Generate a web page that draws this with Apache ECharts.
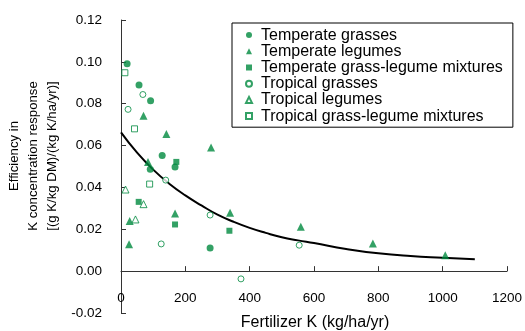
<!DOCTYPE html>
<html>
<head>
<meta charset="utf-8">
<script src="https://cdn.jsdelivr.net/npm/echarts@6/dist/echarts.min.js"></script>
<style>
  html, body { margin: 0; padding: 0; background: #fff; }
  #chart { width: 525px; height: 331px; }
</style>
</head>
<body>
<div id="chart"></div>
<script>
// Observations: [fertilizer K (kg/ha/yr), efficiency]
const temperateGrasses = [[19, 0.0991], [56, 0.0889], [92, 0.0814], [128, 0.0553], [91, 0.0487], [168, 0.0498], [277, 0.0110]];
const temperateLegumes = [[70, 0.0742], [141, 0.0655], [280, 0.0591], [84, 0.0522], [168, 0.0276], [339, 0.0279], [27, 0.0240], [559, 0.0212], [25, 0.0128], [783, 0.0132], [1008, 0.0076]];
const temperateMixtures = [[172, 0.0522], [55, 0.0331], [168, 0.0223], [337, 0.0193]];
const tropicalGrasses = [[68, 0.0844], [22, 0.0773], [139, 0.0435], [277, 0.0268], [125, 0.0130], [554, 0.0124], [373, -0.0037]];
const tropicalLegumes = [[14, 0.0390], [70, 0.0320], [45, 0.0247]];
const tropicalMixtures = [[12, 0.0948], [42, 0.0680], [89, 0.0416]];

// Fitted response curve
const curveX = [0, 50, 100, 150, 200, 250, 300, 350, 400, 450, 500, 550, 600, 700, 800, 900, 1000, 1100];
const curveY = [0.0663, 0.0566, 0.0485, 0.0418, 0.0362, 0.0314, 0.0270, 0.0236, 0.0207, 0.0183, 0.0162, 0.0147, 0.0134, 0.0106, 0.0085, 0.0072, 0.0064, 0.0057];

const seriesNames = [
  'Temperate grasses',
  'Temperate legumes',
  'Temperate grass-legume mixtures',
  'Tropical grasses',
  'Tropical legumes',
  'Tropical grass-legume mixtures'
];

const GREEN = '#00893f';
const AXIS = '#333';
const FONT = 'Arial, "Liberation Sans", sans-serif';

function filled(name, data, symbol, size) {
  return {
    type: 'scatter', name: name, data: data, symbol: symbol, symbolSize: size, z: 3,
    itemStyle: { color: GREEN, borderWidth: 0 }
  };
}
function hollow(name, data, symbol, size) {
  return {
    type: 'scatter', name: name, data: data, symbol: symbol, symbolSize: size, z: 3,
    itemStyle: { color: '#fff', borderColor: GREEN, borderWidth: 1 }
  };
}

const chart = echarts.init(document.getElementById('chart'), null, { renderer: 'canvas' });
chart.setOption({
  animation: false,
  backgroundColor: '#fff',
  textStyle: { fontFamily: FONT },
  grid: { left: 121, right: 16, top: 20, bottom: 18, containLabel: false },
  xAxis: [
    {
      // tick labels, sitting low inside the plot area
      type: 'value', min: 0, max: 1200, interval: 200, position: 'bottom',
      axisLine: { show: false, onZero: false },
      axisTick: { show: false },
      axisLabel: { margin: -22, fontSize: 13.5, color: '#000', fontFamily: FONT,
        formatter: function (v) { return String(v); } },
      splitLine: { show: false }
    },
    {
      // axis line with upward ticks along y = 0
      type: 'value', min: 0, max: 1200, interval: 200, position: 'top',
      axisLine: { show: true, onZero: true, lineStyle: { color: AXIS, width: 1 } },
      axisTick: { show: true, inside: false, length: 5, lineStyle: { color: AXIS } },
      axisLabel: { show: false },
      splitLine: { show: false }
    }
  ],
  yAxis: {
    type: 'value', min: -0.02, max: 0.12, interval: 0.02,
    axisLine: { show: true, onZero: false, lineStyle: { color: AXIS, width: 1 } },
    axisTick: { show: true, inside: true, length: 5, lineStyle: { color: AXIS } },
    axisLabel: { margin: 19, fontSize: 13.5, color: '#000', fontFamily: FONT,
      formatter: function (v) { return (Math.abs(v) < 1e-9 ? 0 : v).toFixed(2); } },
    splitLine: { show: false }
  },
  legend: {
    data: seriesNames,
    orient: 'vertical',
    left: 232, top: 23,
    padding: [4, 10, 3, 13],
    backgroundColor: '#fff',
    borderColor: '#000', borderWidth: 1, borderRadius: 0,
    itemWidth: 6, itemHeight: 6, itemGap: 0,
    selectedMode: false,
    textStyle: { fontSize: 16, lineHeight: 16.2, color: '#000', fontFamily: FONT, padding: [0, 0, 0, 4] }
  },
  graphic: [
    {
      type: 'text', x: 33, y: 156, rotation: Math.PI / 2,
      style: {
        text: 'Efficiency in\nK concentration response\n[(g K/kg DM)/(kg K/ha/yr)]',
        align: 'center', verticalAlign: 'middle', lineHeight: 19,
        fontSize: 13.2, fontFamily: FONT, fill: '#000'
      }
    },
    {
      type: 'text', x: 315, y: 323,
      style: {
        text: 'Fertilizer K (kg/ha/yr)',
        align: 'center', verticalAlign: 'middle',
        fontSize: 16, fontFamily: FONT, fill: '#000'
      }
    }
  ],
  series: [
    {
      type: 'line', name: 'fit', data: curveX.map(function (x, i) { return [x, curveY[i]]; }),
      smooth: true, showSymbol: false, symbol: 'none', z: 2,
      lineStyle: { color: '#000', width: 2 }
    },
    filled(seriesNames[0], temperateGrasses, 'circle', 7),
    filled(seriesNames[1], temperateLegumes, 'triangle', 8),
    filled(seriesNames[2], temperateMixtures, 'rect', 6),
    hollow(seriesNames[3], tropicalGrasses, 'circle', 6),
    hollow(seriesNames[4], tropicalLegumes, 'triangle', 7),
    hollow(seriesNames[5], tropicalMixtures, 'rect', 6)
  ]
});
</script>
</body>
</html>
